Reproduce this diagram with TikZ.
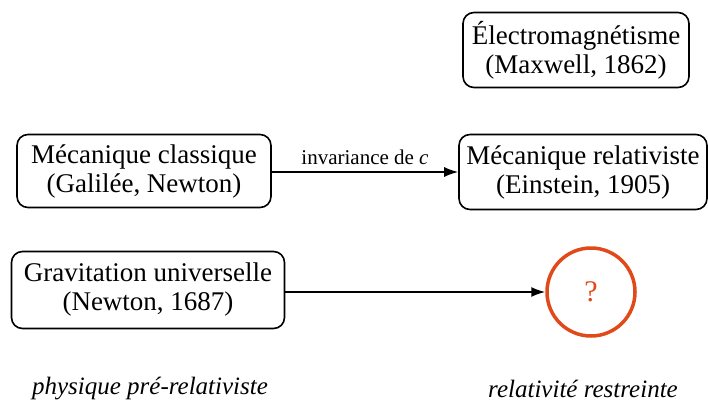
\documentclass[tikz,border=0pt]{standalone}
\usepackage{fontspec}
\setmainfont{Liberation Serif}
\usetikzlibrary{arrows.meta}
\definecolor{qorange}{HTML}{E04A1A}
\tikzset{
  box/.style={draw, line width=1.6pt, rounded corners=11pt, align=center, inner sep=0pt,
    font=\fontsize{27}{29}\selectfont},
  conn/.style={line width=1.6pt, -{Latex[length=14pt,width=10pt]}},
  era/.style={font=\fontsize{25}{28}\selectfont\itshape},
}
\begin{document}
\begin{tikzpicture}[x=1pt,y=-1pt]
\useasboundingbox (0,0) rectangle (708,409);
\node[box, minimum width=226pt, minimum height=75pt] (em) at (576,50) {Électromagnétisme\\(Maxwell, 1862)};
\node[box, minimum width=254pt, minimum height=73pt] (mc) at (144,171) {Mécanique classique\\(Galilée, Newton)};
\node[box, minimum width=248pt, minimum height=75pt] (mr) at (583,172) {Mécanique relativiste\\(Einstein, 1905)};
\node[box, minimum width=273pt, minimum height=77pt] (gu) at (148,290) {Gravitation universelle\\(Newton, 1687)};
\node[draw=qorange, line width=3.5pt, circle, minimum size=88pt, inner sep=0pt,
  text=qorange, font=\fontsize{30}{32}\selectfont] (q) at (591,292) {?};
\draw[conn] (mc.east |- 0,172) -- node[above=3pt, font=\fontsize{21}{24}\selectfont] (lab) {invariance de \textit{c}} (mr.west |- 0,172);
\draw[conn] (gu.east |- q.west) -- (q.west);
\node[era] (pre) at (150,389) {physique pré-relativiste};
\node[era] (rr) at (583,389) {relativité restreinte};
\end{tikzpicture}
\end{document}
